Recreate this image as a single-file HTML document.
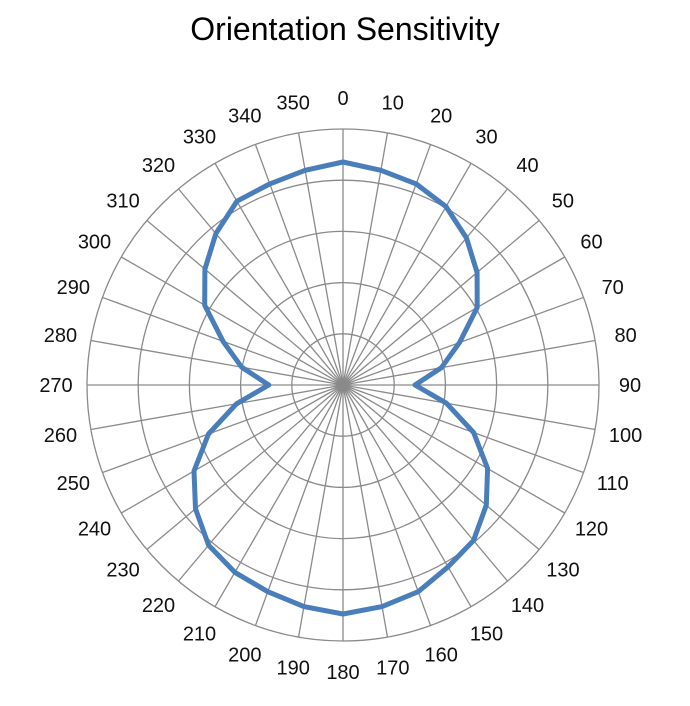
<!DOCTYPE html><html><head><style>body{margin:0;background:#fff}</style></head><body>
<svg width="690" height="701" xmlns="http://www.w3.org/2000/svg" font-family="Liberation Sans, sans-serif">
<text x="345" y="40" font-size="32" text-anchor="middle" fill="#000">Orientation Sensitivity</text>
<g id="g" stroke="#8a8a8a" stroke-width="1.3" fill="none"></g>
<polygon id="p" fill="none" stroke="#4a7ebb" stroke-width="5" stroke-linejoin="round"/>
<g id="l" font-size="20" fill="#111" text-anchor="middle"></g>
</svg>
<script>
var cx=343,cy=385,R=256,ns="http://www.w3.org/2000/svg",g=document.getElementById('g'),l=document.getElementById('l');
function el(t,a,p){var e=document.createElementNS(ns,t);for(var k in a)e.setAttribute(k,a[k]);p.appendChild(e);return e;}
for(var i=1;i<=5;i++)el('circle',{cx:cx,cy:cy,r:R*i/5},g);
for(var a=0;a<360;a+=10){var t=a*Math.PI/180;
el('line',{x1:cx,y1:cy,x2:cx+R*Math.sin(t),y2:cy-R*Math.cos(t)},g);
var lr=R+31;var x=cx+lr*Math.sin(t),y=cy-lr*Math.cos(t)+7;
var tx=el('text',{x:x.toFixed(1),y:y.toFixed(1)},l);tx.textContent=a;}
var r=[223,218,214,206,192,175,155,124,100,72,105,139,167,187,203,210,220,225,229];
var pts=[];
for(var k=0;k<36;k++){var rr=k<=18?r[k]:r[36-k]*(k>=21&&k<=33?1.03:1.0);var t=k*10*Math.PI/180;
pts.push((cx+rr*Math.sin(t)).toFixed(1)+','+(cy-rr*Math.cos(t)).toFixed(1));}
document.getElementById('p').setAttribute('points',pts.join(' '));
</script>
</body></html>
